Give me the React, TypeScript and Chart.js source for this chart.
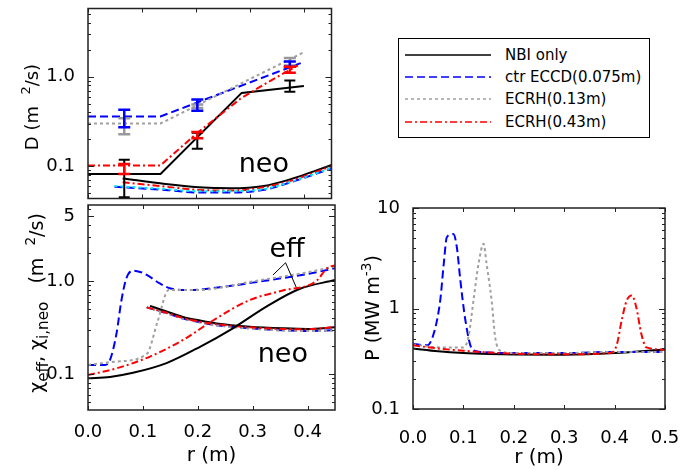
import React, { useEffect, useRef } from 'react';
import { Chart, registerables } from 'chart.js';

Chart.register(...registerables);

const FONT = 'DejaVu Sans';

// ---------- Top-left panel: D (m^2/s) ----------
const rDNbi = [0, 0.134, 0.284, 0.399];
const dNbi = [0.082, 0.082, 0.66, 0.79];
const rDEccd = [0, 0.134, 0.393];
const dEccd = [0.36, 0.36, 1.42];
const rDEcrh13 = [0, 0.134, 0.399];
const dEcrh13 = [0.3, 0.3, 1.88];
const rDEcrh43 = [0, 0.134, 0.2, 0.282, 0.331, 0.388];
const dEcrh43 = [0.102, 0.102, 0.23, 0.57, 0.86, 1.34];

const rDNeoA = [0.064, 0.143, 0.204, 0.264, 0.325, 0.373, 0.416, 0.45];
const dNeoNbi = [0.073, 0.063, 0.058, 0.0565, 0.06, 0.071, 0.087, 0.103];
const dNeoEcrh43 = [0.066, 0.059, 0.0543, 0.0533, 0.058, 0.068, 0.084, 0.1];
const rDNeoB = [0.049, 0.143, 0.204, 0.264, 0.325, 0.373, 0.416, 0.45];
const dNeoEccd = [0.059, 0.0543, 0.0508, 0.0508, 0.0543, 0.0655, 0.08, 0.0945];
const dNeoCyan = [0.06, 0.0555, 0.0525, 0.0525, 0.0555, 0.0664, 0.081, 0.096];

const rErr = [0.067, 0.202, 0.373];
const errNbiLo = [0.045, 0.157, 0.68];
const errNbiHi = [0.118, 0.236, 0.906];
const errEcrh43Lo = [0.082, 0.205, 1.11];
const errEcrh43Hi = [0.106, 0.241, 1.29];
const errEccdLo = [0.273, 0.418, 1.29];
const errEccdHi = [0.428, 0.556, 1.48];
const errEcrh13Lo = [0.228, 0.446, 1.34];
const errEcrh13Hi = [0.343, 0.49, 1.62];

// ---------- Bottom-left panel: chi (m^2/s) ----------
const rChiNbi = [0, 0.04, 0.082, 0.143, 0.204, 0.264, 0.325, 0.385, 0.45];
const chiNbi = [0.09, 0.093, 0.103, 0.131, 0.196, 0.31, 0.53, 0.82, 1.025];
const rChiEccd = [0, 0.031, 0.04, 0.052, 0.061, 0.07, 0.082, 0.095, 0.107, 0.131, 0.149, 0.185, 0.25, 0.3, 0.4, 0.45];
const chiEccd = [0.125, 0.125, 0.141, 0.274, 0.625, 1.07, 1.29, 1.25, 1.16, 0.94, 0.835, 0.8, 0.87, 0.96, 1.19, 1.37];
const rChiEcrh13 = [0, 0.052, 0.107, 0.127, 0.147, 0.2, 0.3, 0.4, 0.45];
const chiEcrh13 = [0.125, 0.136, 0.164, 0.37, 0.8, 0.8, 0.99, 1.24, 1.43];
const rChiEcrh43 = [0, 0.052, 0.113, 0.173, 0.234, 0.295, 0.355, 0.416, 0.436, 0.45];
const chiEcrh43 = [0.0975, 0.115, 0.154, 0.232, 0.397, 0.625, 0.79, 1.0, 1.38, 1.47];

const rChiNeoNbi = [0.113, 0.143, 0.173, 0.204, 0.234, 0.295, 0.355, 0.4, 0.45];
const chiNeoNbi = [0.54, 0.47, 0.41, 0.375, 0.35, 0.323, 0.31, 0.305, 0.318];
const rChiNeo = [0.107, 0.143, 0.173, 0.204, 0.234, 0.295, 0.355, 0.4, 0.45];
const chiNeoEcrh43 = [0.52, 0.455, 0.4, 0.365, 0.343, 0.318, 0.305, 0.303, 0.32];
const chiNeoEccd = [0.52, 0.45, 0.395, 0.36, 0.335, 0.31, 0.295, 0.29, 0.295];
const chiNeoEcrh13 = [0.52, 0.45, 0.395, 0.358, 0.333, 0.308, 0.293, 0.29, 0.292];

// ---------- Right panel: P (MW m^-3) ----------
const rPNbi = [0, 0.05, 0.1, 0.15, 0.2, 0.3, 0.4, 0.5];
const pNbi = [0.4, 0.375, 0.36, 0.352, 0.348, 0.347, 0.36, 0.39];
const rPEccd = [0, 0.028, 0.041, 0.054, 0.061, 0.067, 0.075, 0.08, 0.087, 0.094, 0.104, 0.117, 0.133, 0.2, 0.3, 0.4, 0.5];
const pEccd = [0.445, 0.43, 0.56, 1.2, 2.78, 5.1, 5.4, 5.5, 4.07, 1.9, 0.76, 0.397, 0.37, 0.36, 0.36, 0.37, 0.37];
const rPEcrh13 = [0, 0.054, 0.1, 0.11, 0.12, 0.13, 0.14, 0.146, 0.156, 0.163, 0.173, 0.2, 0.3, 0.4, 0.5];
const pEcrh13 = [0.44, 0.41, 0.41, 0.52, 1.2, 2.78, 4.4, 2.78, 1.2, 0.52, 0.38, 0.36, 0.36, 0.37, 0.37];
const rPEcrh43 = [0, 0.05, 0.1, 0.2, 0.3, 0.39, 0.404, 0.414, 0.424, 0.434, 0.443, 0.453, 0.463, 0.5];
const pEcrh43 = [0.43, 0.4, 0.38, 0.355, 0.35, 0.36, 0.43, 0.76, 1.2, 1.35, 1.03, 0.56, 0.41, 0.39];

// ---------- Axis ticks ----------
const xTicksLeft = [0, 0.1, 0.2, 0.3, 0.4];
const xTicksRight = [0, 0.1, 0.2, 0.3, 0.4, 0.5];
const yTicksD = [0.1, 1];
const yLabelsD = ['0.1', '1.0'];
const yTicksChi = [0.1, 1, 5];
const yLabelsChi = ['0.1', '1.0', '5'];
const yTicksP = [0.1, 1, 10];
const yLabelsP = ['0.1', '1', '10'];

// ---------- Legend ----------
const legendNames = ['NBI only', 'ctr ECCD(0.075m)', 'ECRH(0.13m)', 'ECRH(0.43m)'];
const BLACK = '#000000';
const BLUE = '#0000ff';
const GRAY = '#a0a0a0';
const RED = '#ff0000';
const CYAN = '#00e8ff';
const legendColors = [BLACK, BLUE, GRAY, RED];
const DASH_SOLID: number[] = [];
const DASH_BLUE = [8, 4];
const DASH_GRAY = [3, 3];
const DASH_RED = [7, 3, 2, 3];
const legendDashes = [DASH_SOLID, DASH_BLUE, DASH_GRAY, DASH_RED];

// ---------- helpers ----------
const xy = (rs: number[], vs: number[]) => rs.map((x, i) => ({ x, y: vs[i] }));
const errXY = (rs: number[], lo: number[], hi: number[]) =>
  rs.flatMap((x, i) => [{ x, y: lo[i] }, { x, y: hi[i] }, { x, y: null as any }]);

const curve = (data: any[], color: string, dash: number[], smooth: boolean, width = 2) => ({
  data,
  borderColor: color,
  backgroundColor: color,
  borderDash: dash,
  borderWidth: width,
  pointRadius: 0,
  fill: false,
  tension: smooth ? 0.4 : 0,
  cubicInterpolationMode: smooth ? 'monotone' : 'default',
  spanGaps: false,
});

const errSet = (data: any[], color: string, radius: number, width: number) => ({
  data,
  borderColor: color,
  backgroundColor: color,
  borderWidth: width,
  pointStyle: 'line',
  pointRadius: radius,
  pointBorderWidth: width,
  pointBorderColor: color,
  spanGaps: false,
  fill: false,
});

// ---------- plugins ----------
const frameTicks = {
  id: 'frameTicks',
  afterDatasetsDraw(chart: any, _a: any, o: any) {
    const { ctx, chartArea: ca, scales } = chart;
    const xs = scales.x;
    const ys = scales.y;
    ctx.save();
    ctx.strokeStyle = '#222';
    ctx.lineWidth = 1;
    ctx.setLineDash([]);
    ctx.beginPath();
    for (const v of o.xTicks) {
      const px = Math.round(xs.getPixelForValue(v)) + 0.5;
      ctx.moveTo(px, ca.bottom);
      ctx.lineTo(px, ca.bottom - 4);
      ctx.moveTo(px, ca.top);
      ctx.lineTo(px, ca.top + 4);
    }
    const lmin = Math.floor(Math.log10(ys.min));
    const lmax = Math.ceil(Math.log10(ys.max));
    for (let d = lmin; d <= lmax; d++) {
      for (let k = 1; k <= 9; k++) {
        const v = k * Math.pow(10, d);
        if (v < ys.min || v > ys.max) continue;
        const major = o.yMajor.some((m: number) => Math.abs(m - v) / v < 1e-6);
        const len = major ? 6 : 3;
        const py = Math.round(ys.getPixelForValue(v)) + 0.5;
        ctx.moveTo(ca.left, py);
        ctx.lineTo(ca.left + len, py);
        ctx.moveTo(ca.right, py);
        ctx.lineTo(ca.right - len, py);
      }
    }
    ctx.stroke();
    ctx.lineWidth = 1.5;
    ctx.strokeRect(ca.left, ca.top, ca.right - ca.left, ca.bottom - ca.top);
    ctx.restore();
  },
};

const richTitle = {
  id: 'richTitle',
  afterDraw(chart: any, _a: any, o: any) {
    if (!o || !o.segs) return;
    const ctx = chart.ctx;
    ctx.save();
    ctx.translate(o.x, o.y);
    ctx.rotate(-Math.PI / 2);
    ctx.fillStyle = '#000';
    ctx.textBaseline = 'middle';
    ctx.textAlign = 'left';
    const parts = o.segs.map((s: any) => {
      const size = o.size * (s.scale || 1);
      ctx.font = `${size}px "${FONT}"`;
      return { ...s, size, w: ctx.measureText(s.t).width };
    });
    const total = parts.reduce((a: number, p: any) => a + p.w, 0);
    let x = -total / 2;
    for (const p of parts) {
      ctx.font = `${p.size}px "${FONT}"`;
      ctx.fillText(p.t, x, (p.dy || 0) * o.size);
      x += p.w;
    }
    ctx.restore();
  },
};

const notes = {
  id: 'notes',
  afterDatasetsDraw(chart: any, _a: any, o: any) {
    if (!o || !o.items) return;
    const { ctx, scales } = chart;
    const xs = scales.x;
    const ys = scales.y;
    ctx.save();
    ctx.fillStyle = '#000';
    ctx.textAlign = 'center';
    ctx.textBaseline = 'alphabetic';
    for (const it of o.items) {
      ctx.font = `${it.size}px "${FONT}"`;
      ctx.fillText(it.text, xs.getPixelForValue(it.x), ys.getPixelForValue(it.y));
    }
    if (o.lines) {
      ctx.strokeStyle = '#000';
      ctx.lineWidth = 1;
      ctx.setLineDash([]);
      ctx.beginPath();
      for (const l of o.lines) {
        ctx.moveTo(xs.getPixelForValue(l[0]), ys.getPixelForValue(l[1]));
        ctx.lineTo(xs.getPixelForValue(l[2]), ys.getPixelForValue(l[3]));
      }
      ctx.stroke();
    }
    ctx.restore();
  },
};

// annotation positions (data units)
const neoLabelD = { text: 'neo', x: 0.325, y: 0.0865, size: 27 };
const neoLabelChi = { text: 'neo', x: 0.355, y: 0.1356, size: 27 };
const effLabelChi = { text: 'eff', x: 0.3627, y: 1.8, size: 27 };
const effPointers = [
  [0.36, 1.57, 0.337, 1.16],
  [0.36, 1.57, 0.3794, 0.855],
];

function makeConfig(p: any) {
  return {
    type: 'line',
    data: { datasets: p.datasets },
    plugins: [frameTicks, richTitle, notes],
    options: {
      responsive: false,
      animation: false,
      events: [],
      layout: { padding: p.padding },
      plugins: {
        legend: { display: false },
        tooltip: { enabled: false },
        frameTicks: { xTicks: p.xTicks, yMajor: p.yTicks },
        richTitle: p.title,
        notes: p.notes,
      },
      scales: {
        x: {
          type: 'linear',
          min: 0,
          max: p.xMax,
          display: p.showX,
          afterBuildTicks: (s: any) => {
            s.ticks = p.xTicks.map((v: number) => ({ value: v }));
          },
          afterFit: (s: any) => {
            s.height = p.xHeight;
            s.paddingLeft = 0;
            s.paddingRight = 0;
            s.paddingTop = 0;
            s.paddingBottom = 0;
          },
          grid: { display: false },
          border: { display: false },
          ticks: {
            font: { family: FONT, size: 18 },
            color: '#000',
            padding: p.xTickPad,
            maxRotation: 0,
            autoSkip: false,
            callback: (v: any) => Number(v).toFixed(1),
          },
          title: {
            display: true,
            text: 'r (m)',
            font: { family: FONT, size: 20 },
            color: '#000',
            padding: { top: 0, bottom: p.xTitlePad },
          },
        },
        y: {
          type: 'logarithmic',
          min: p.yMin,
          max: p.yMax,
          afterBuildTicks: (s: any) => {
            s.ticks = p.yTicks.map((v: number) => ({ value: v }));
          },
          afterFit: (s: any) => {
            s.width = p.yWidth;
            s.paddingTop = 0;
            s.paddingBottom = 0;
            s.paddingLeft = 0;
            s.paddingRight = 0;
          },
          grid: { display: false },
          border: { display: false },
          ticks: {
            font: { family: FONT, size: 18 },
            color: '#000',
            padding: 5,
            autoSkip: false,
            callback: (v: any) => {
              const i = p.yTicks.findIndex((t: number) => Math.abs(t - v) / t < 1e-6);
              return i >= 0 ? p.yLabels[i] : '';
            },
          },
        },
      },
    },
  };
}

function Panel(props: { left: number; top: number; w: number; h: number; make: () => any }) {
  const ref = useRef<HTMLCanvasElement>(null);
  useEffect(() => {
    const c = new Chart(ref.current as HTMLCanvasElement, props.make());
    return () => c.destroy();
  }, []);
  return (
    <div style={{ position: 'absolute', left: props.left, top: props.top, width: props.w, height: props.h }}>
      <canvas ref={ref} width={props.w} height={props.h} style={{ width: props.w, height: props.h, display: 'block' }} />
    </div>
  );
}

const topConfig = () =>
  makeConfig({
    datasets: [
      errSet(errXY(rErr, errEcrh43Lo, errEcrh43Hi), RED, 6, 2.5),
      errSet(errXY(rErr, errEccdLo, errEccdHi), BLUE, 6, 2.5),
      errSet(errXY(rErr, errEcrh13Lo, errEcrh13Hi), '#999999', 6, 2.5),
      errSet(errXY(rErr, errNbiLo, errNbiHi), BLACK, 5.5, 2),
      curve(xy(rDEcrh43, dEcrh43), RED, DASH_RED, false),
      curve(xy(rDEcrh13, dEcrh13), GRAY, DASH_GRAY, false),
      curve(xy(rDEccd, dEccd), BLUE, DASH_BLUE, false),
      curve(xy(rDNbi, dNbi), BLACK, DASH_SOLID, false),
      curve(xy(rDNeoB, dNeoCyan), CYAN, DASH_GRAY, true),
      curve(xy(rDNeoB, dNeoEccd), BLUE, DASH_BLUE, true),
      curve(xy(rDNeoA, dNeoEcrh43), RED, DASH_RED, true),
      curve(xy(rDNeoA, dNeoNbi), BLACK, DASH_SOLID, true),
    ],
    padding: { top: 5, right: 5, bottom: 2, left: 0 },
    xMax: 0.45,
    xTicks: xTicksLeft,
    showX: false,
    xHeight: 0,
    xTickPad: 4,
    xTitlePad: 2,
    yMin: 0.0435,
    yMax: 5.8,
    yTicks: yTicksD,
    yLabels: yLabelsD,
    yWidth: 88,
    title: {
      x: 33,
      y: 107,
      size: 18,
      segs: [{ t: 'D (m  ' }, { t: '2', scale: 0.72, dy: -0.35 }, { t: '/s)' }],
    },
    notes: { items: [neoLabelD] },
  });

const midConfig = () =>
  makeConfig({
    datasets: [
      curve(xy(rChiEcrh43, chiEcrh43), RED, DASH_RED, true),
      curve(xy(rChiEcrh13, chiEcrh13), GRAY, DASH_GRAY, true),
      curve(xy(rChiEccd, chiEccd), BLUE, DASH_BLUE, true),
      curve(xy(rChiNbi, chiNbi), BLACK, DASH_SOLID, true),
      curve(xy(rChiNeo, chiNeoEcrh43), RED, DASH_RED, true),
      curve(xy(rChiNeoNbi, chiNeoNbi), BLACK, DASH_SOLID, true),
      curve(xy(rChiNeo, chiNeoEcrh13), GRAY, DASH_GRAY, true),
      curve(xy(rChiNeo, chiNeoEccd), BLUE, DASH_BLUE, true),
    ],
    padding: { top: 5, right: 5, bottom: 0, left: 0 },
    xMax: 0.45,
    xTicks: xTicksLeft,
    showX: true,
    xHeight: 60,
    xTickPad: 4,
    xTitlePad: 2,
    yMin: 0.041,
    yMax: 6.56,
    yTicks: yTicksChi,
    yLabels: yLabelsChi,
    yWidth: 88,
    title: {
      x: 38,
      y: 103,
      size: 19,
      segs: [
        { t: 'χ' },
        { t: 'eff', scale: 0.8, dy: 0.3 },
        { t: ', χ' },
        { t: 'i,neo', scale: 0.8, dy: 0.3 },
        { t: '   (m  ' },
        { t: '2', scale: 0.72, dy: -0.35 },
        { t: '/s)' },
      ],
    },
    notes: { items: [neoLabelChi, effLabelChi], lines: effPointers },
  });

const rightConfig = () =>
  makeConfig({
    datasets: [
      curve(xy(rPEcrh43, pEcrh43), RED, DASH_RED, true),
      curve(xy(rPEcrh13, pEcrh13), GRAY, DASH_GRAY, true),
      curve(xy(rPEccd, pEccd), BLUE, DASH_BLUE, true),
      curve(xy(rPNbi, pNbi), BLACK, DASH_SOLID, true),
    ],
    padding: { top: 28, right: 15, bottom: 0, left: 0 },
    xMax: 0.5,
    xTicks: xTicksRight,
    showX: true,
    xHeight: 61,
    xTickPad: 11,
    xTitlePad: 0,
    yMin: 0.1,
    yMax: 10,
    yTicks: yTicksP,
    yLabels: yLabelsP,
    yWidth: 73,
    title: {
      x: 34,
      y: 128,
      size: 19,
      segs: [{ t: 'P (MW m' }, { t: '-3', scale: 0.72, dy: -0.35 }, { t: ')' }],
    },
    notes: null,
  });

function Legend() {
  return (
    <div
      style={{
        position: 'absolute',
        left: 398,
        top: 38,
        width: 252,
        height: 100,
        border: '1.5px solid #000',
        boxSizing: 'border-box',
        background: '#fff',
        fontFamily: FONT,
        fontSize: 15,
        color: '#000',
      }}
    >
      {legendNames.map((name, i) => (
        <div key={name} style={{ position: 'absolute', left: 0, top: 5 + i * 22.2, height: 22, width: '100%' }}>
          <svg width={86} height={6} style={{ position: 'absolute', left: 6, top: 8 }}>
            <line
              x1={0}
              y1={3}
              x2={86}
              y2={3}
              stroke={legendColors[i]}
              strokeWidth={1.6}
              strokeDasharray={legendDashes[i].length ? legendDashes[i].join(' ') : undefined}
            />
          </svg>
          <span style={{ position: 'absolute', left: 106, top: 1, lineHeight: '20px', whiteSpace: 'nowrap' }}>{name}</span>
        </div>
      ))}
    </div>
  );
}

export default function App() {
  return (
    <div style={{ position: 'absolute', left: 0, top: 0, width: 680, height: 470, background: '#fff', overflow: 'hidden' }}>
      <Panel left={0} top={0} w={340} h={207} make={topConfig} />
      <Panel left={0} top={200} w={340} h={270} make={midConfig} />
      <Panel left={340} top={180} w={340} h={290} make={rightConfig} />
      <Legend />
    </div>
  );
}
